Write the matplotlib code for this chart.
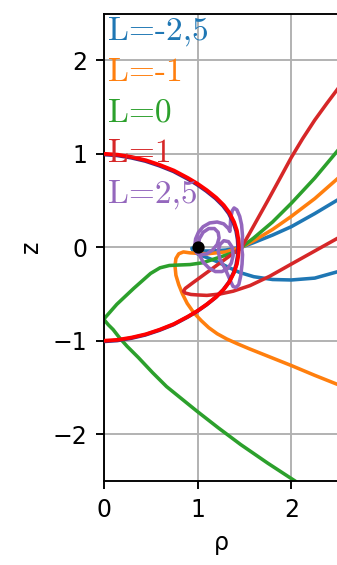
import matplotlib
matplotlib.use("Agg")
import matplotlib.pyplot as plt
import matplotlib.patheffects as pe

# --- trajectories in the (rho, z) meridional plane, one path per L value ---
labels = ["L=-2,5", "L=-1", "L=0", "L=1", "L=2,5"]
colors = ["tab:blue", "tab:orange", "tab:green", "tab:red", "tab:purple"]

blue_rho = [2.5, 2.25, 2.0, 1.8, 1.6, 1.47, 1.3, 1.15, 1.02, 0.96, 0.94, 0.96, 1.02, 1.1, 1.2, 1.32,
            1.45, 1.6, 1.8, 2.0, 2.25, 2.5]
blue_z = [0.51, 0.36, 0.22, 0.13, 0.05, 0.0, -0.03, -0.04, -0.04, -0.03, -0.01, -0.05, -0.08, -0.11,
          -0.15, -0.21, -0.27, -0.315, -0.345, -0.35, -0.33, -0.26]

orange_rho = [2.5, 2.25, 2.0, 1.8, 1.6, 1.47, 1.3, 1.1, 0.92, 0.85, 0.80, 0.77, 0.76, 0.77, 0.80, 0.84,
              0.89, 0.96, 1.04, 1.12, 1.21, 1.31, 1.42, 1.55, 1.7, 1.85, 2.0, 2.25, 2.5]
orange_z = [0.74, 0.52, 0.33, 0.19, 0.07, 0.0, -0.05, -0.07, -0.06, -0.05, -0.07, -0.12, -0.20, -0.30,
            -0.40, -0.50, -0.60, -0.70, -0.785, -0.86, -0.925, -0.98, -1.03, -1.085, -1.145, -1.205,
            -1.265, -1.37, -1.47]

green_rho = [2.5, 2.25, 2.0, 1.8, 1.6, 1.47, 1.42, 1.21, 1.06, 0.92, 0.80, 0.70, 0.60, 0.50, 0.41, 0.32,
             0.23, 0.14, 0.07, 0.0, 0.05, 0.10, 0.17, 0.25, 0.37, 0.52, 0.67, 0.83, 0.99, 1.22, 1.46,
             1.75, 2.04]
green_z = [1.04, 0.74, 0.47, 0.27, 0.10, 0.0, -0.045, -0.115, -0.165, -0.185, -0.19, -0.195, -0.22,
           -0.28, -0.36, -0.44, -0.525, -0.61, -0.69, -0.77, -0.83, -0.88, -0.97, -1.06, -1.18, -1.34,
           -1.49, -1.62, -1.75, -1.93, -2.11, -2.31, -2.5]

red_rho = [2.5, 2.38, 2.25, 2.12, 2.0, 1.87, 1.75, 1.65, 1.55, 1.47, 1.34, 1.21, 1.08, 0.95, 0.87,
           0.85, 0.87, 0.93, 1.0, 1.10, 1.24, 1.38, 1.56, 1.77, 2.0, 2.25, 2.5]
red_z = [1.70, 1.54, 1.36, 1.16, 0.96, 0.72, 0.50, 0.32, 0.14, 0.0, -0.095, -0.19, -0.285, -0.38,
         -0.44, -0.47, -0.49, -0.505, -0.51, -0.515, -0.50, -0.47, -0.41, -0.31, -0.18, -0.04, 0.10]

purple_rho = [1.47, 1.48, 1.47, 1.45, 1.42, 1.39, 1.37, 1.355, 1.35, 1.345, 1.33, 1.28, 1.21, 1.13,
              1.06, 1.01, 0.98, 0.97, 0.99, 1.04, 1.10, 1.16, 1.21, 1.23, 1.22, 1.18, 1.12, 1.06,
              1.02, 1.01, 1.02, 1.06, 1.12, 1.19, 1.26, 1.32, 1.36, 1.38, 1.37, 1.33, 1.28, 1.24,
              1.22, 1.24, 1.29, 1.33, 1.36, 1.38, 1.41, 1.44, 1.46, 1.475, 1.48, 1.47]
purple_z = [0.0, 0.12, 0.24, 0.33, 0.40, 0.42, 0.39, 0.32, 0.24, 0.17, 0.20, 0.25, 0.27, 0.26, 0.22,
            0.16, 0.09, 0.01, -0.06, -0.08, -0.07, -0.03, 0.03, 0.10, 0.16, 0.20, 0.20, 0.16, 0.09,
            0.01, -0.08, -0.16, -0.22, -0.26, -0.26, -0.23, -0.17, -0.09, 0.0, 0.06, 0.07, 0.03,
            -0.04, -0.13, -0.22, -0.31, -0.38, -0.42, -0.43, -0.40, -0.31, -0.18, -0.08, 0.0]

series_rho = [blue_rho, orange_rho, green_rho, red_rho, purple_rho]
series_z = [blue_z, orange_z, green_z, red_z, purple_z]

# closed boundary curve through (0, +-1)
bound_rho = [0.0, 0.15, 0.3, 0.45, 0.6, 0.75, 0.9, 1.0, 1.1, 1.2, 1.28, 1.34, 1.39, 1.42, 1.435, 1.44,
             1.435, 1.42, 1.39, 1.34, 1.28, 1.2, 1.1, 1.0, 0.9, 0.75, 0.6, 0.45, 0.3, 0.15, 0.0]
bound_z = [1.0, 0.99, 0.965, 0.93, 0.88, 0.82, 0.74, 0.68, 0.61, 0.53, 0.45, 0.37, 0.27, 0.18, 0.09, 0.0,
           -0.09, -0.18, -0.27, -0.37, -0.45, -0.53, -0.61, -0.68, -0.74, -0.82, -0.88, -0.93, -0.965,
           -0.99, -1.0]

centre = (1.0, 0.0)

xticks = [0, 1, 2]
yticks = [-2, -1, 0, 1, 2]

dpi = 170
fig = plt.figure(figsize=(337 / dpi, 565 / dpi), dpi=dpi)
ax = fig.add_axes([103.7 / 337, (565 - 481) / 565, 234.5 / 337, 467.5 / 565])

handles = []
for r, z, c, lab in zip(series_rho, series_z, colors, labels):
    h, = ax.plot(r, z, color=c, lw=1.5, label=lab, zorder=2)
    handles.append(h)

ax.plot(bound_rho, bound_z, color="red", lw=1.6, zorder=3,
        path_effects=[pe.Stroke(linewidth=1.6, foreground="#4a2a80", offset=(-0.3, -0.3)), pe.Normal()])
ax.plot([centre[0]], [centre[1]], "o", color="k", ms=4.2, zorder=6)

ax.set_xlim(0, 2.5)
ax.set_ylim(-2.5, 2.5)
ax.set_xticks(xticks)
ax.set_yticks(yticks)
ax.grid(True)
ax.set_axisbelow(True)
ax.set_xlabel("ρ")
ax.set_ylabel("z")

leg = ax.legend(handles=handles, loc="upper left", bbox_to_anchor=(0.018, 0.994),
                handlelength=0, handletextpad=0, frameon=False, borderpad=0,
                borderaxespad=0, labelspacing=0.33, labelcolor="linecolor",
                prop={"family": "cmr10", "size": 14.2})
for h in leg.legend_handles:
    h.set_visible(False)

fig.savefig("out.png", dpi=dpi)
